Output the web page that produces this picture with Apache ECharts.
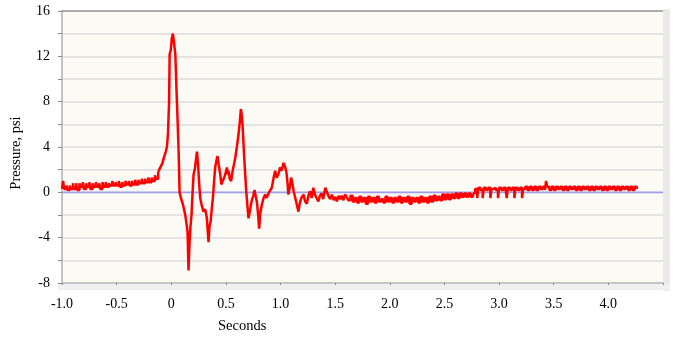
<!DOCTYPE html>
<html><head><meta charset="utf-8">
<script src="https://cdn.jsdelivr.net/npm/echarts@6/dist/echarts.min.js"></script>
<style>html,body{margin:0;padding:0;background:#fff}#c{width:673px;height:339px}</style>
</head><body><div id="c"></div>
<script>
// Pressure trace (seconds, psi)
const preShot = [
[-1.00,0.3],[-0.99,1.0],[-0.98,0.3],[-0.96,0.6],[-0.95,0.2],[-0.93,0.6],[-0.92,0.3],[-0.90,0.8],[-0.89,0.3],[-0.87,0.8],
[-0.86,0.2],[-0.84,0.8],[-0.83,0.5],[-0.81,0.9],[-0.80,0.3],[-0.78,0.8],[-0.77,0.5],[-0.75,0.9],[-0.74,0.3],[-0.72,0.8],
[-0.71,0.5],[-0.69,0.9],[-0.68,0.5],[-0.66,0.8],[-0.65,0.3],[-0.63,0.9],[-0.62,0.5],[-0.60,0.9],[-0.59,0.5],[-0.57,0.8],
[-0.56,0.6],[-0.54,1.0],[-0.53,0.6],[-0.51,0.9],[-0.50,0.6],[-0.48,1.0],[-0.47,0.5],[-0.45,0.9],[-0.44,0.6],[-0.42,1.0],
[-0.41,0.7],[-0.39,1.0],[-0.38,0.6],[-0.36,1.0],[-0.35,0.7],[-0.33,1.1],[-0.32,0.7],[-0.30,1.1],[-0.29,0.8],[-0.27,1.2],
[-0.26,0.8],[-0.24,1.2],[-0.23,0.9],[-0.21,1.3],[-0.20,0.9],[-0.18,1.3],[-0.17,1.0],[-0.15,1.5],[-0.14,1.2],[-0.12,1.8]
];
const blast = [
[-0.12,1.8],[-0.10,2.2],[-0.08,2.6],[-0.07,3.0],[-0.05,3.6],[-0.04,4.0],[-0.03,5.2],[-0.02,8.0],[-0.015,12.2],[-0.005,12.5],
[0.005,13.6],[0.015,14.0],[0.025,13.2],[0.037,12.2],[0.048,9.0],[0.058,6.3],[0.068,3.4],[0.076,0.0],[0.088,-0.5],[0.098,-0.8],
[0.11,-1.2],[0.128,-2.0],[0.14,-2.8],[0.149,-3.5],[0.158,-6.9],[0.166,-4.8],[0.174,-3.2],[0.185,-2.0],[0.195,0.0],[0.204,1.6],
[0.215,2.0],[0.225,2.8],[0.235,3.6],[0.245,2.5],[0.255,0.8],[0.265,-0.5],[0.28,-1.2],[0.295,-1.7],[0.31,-1.5],[0.325,-2.2],
[0.341,-4.4],[0.35,-3.0],[0.36,-2.6],[0.37,-1.5],[0.381,-0.5],[0.392,1.0],[0.402,2.2],[0.413,2.8],[0.423,3.2],[0.435,2.4],
[0.448,1.6],[0.458,0.7],[0.47,0.8],[0.484,1.3],[0.495,1.6],[0.509,2.2],[0.518,1.6],[0.524,1.9],[0.535,1.2],[0.548,1.0],
[0.56,1.8],[0.572,2.4],[0.585,3.0],[0.60,4.0],[0.615,5.1],[0.627,6.2],[0.637,7.35],[0.645,6.8],[0.652,6.0],[0.66,4.5],
[0.668,3.0],[0.677,1.5],[0.686,0.1],[0.697,-1.2],[0.707,-2.3],[0.72,-1.6],[0.735,-0.8],[0.75,-0.3],[0.762,0.2],[0.772,-0.3],
[0.783,-0.8],[0.795,-2.0],[0.804,-3.2],[0.815,-1.8],[0.829,-1.1],[0.845,-0.5],[0.859,-0.2],[0.872,-0.5],[0.885,-0.2],[0.90,0.1],
[0.92,0.4],[0.935,1.2],[0.95,1.9],[0.965,1.3],[0.98,1.6],[0.996,2.2],[1.01,1.9],[1.027,2.6],[1.04,2.3],[1.055,1.7],
[1.064,0.8],[1.072,-0.2],[1.085,0.5],[1.097,1.3],[1.11,0.7],[1.12,0.1],[1.135,-0.5],[1.149,-1.1],[1.164,-1.7],[1.175,-1.0],
[1.19,-0.5],[1.21,-0.2],[1.225,-0.8],[1.24,-1.0],[1.255,-0.3],[1.27,0.1],[1.285,-0.5],[1.30,0.4],[1.315,-0.2],[1.33,-0.5],
[1.346,-0.8],[1.36,-0.3],[1.375,-0.1],[1.39,-0.6],[1.41,0.4],[1.425,0.0],[1.44,-0.35],[1.455,-0.6],[1.47,-0.2],[1.485,-0.7],
[1.50,-0.4],[1.515,-0.8],[1.53,-0.3],[1.545,-0.6],[1.56,-0.3],[1.575,-0.7],[1.59,-0.2],[1.606,-0.4]
];
const tailLow = [
[1.606,-0.4],[1.62,-0.7],[1.64,-0.3],[1.66,-0.8],[1.68,-0.5],[1.70,-0.9],[1.72,-0.4],[1.74,-0.8],[1.76,-0.5],[1.78,-1.0],[1.80,-0.4],
[1.82,-0.8],[1.84,-0.5],[1.86,-0.9],[1.88,-0.4],[1.90,-0.8],[1.92,-0.6],[1.94,-0.9],[1.96,-0.4],[1.98,-0.8],[2.00,-0.5],
[2.02,-0.9],[2.04,-0.5],[2.06,-0.8],[2.08,-0.4],[2.10,-0.9],[2.12,-0.5],[2.14,-0.8],[2.16,-0.4],[2.18,-1.0],[2.20,-0.5],
[2.22,-0.8],[2.24,-0.5],[2.26,-0.9],[2.28,-0.4],[2.30,-0.8],[2.32,-0.5],[2.34,-0.9],[2.36,-0.4],[2.38,-0.8],[2.40,-0.3],
[2.42,-0.7],[2.44,-0.4],[2.46,-0.7],[2.48,-0.2],[2.50,-0.6],[2.52,-0.2],[2.54,-0.6],[2.56,-0.2],[2.58,-0.5],[2.60,-0.1],
[2.62,-0.5],[2.64,-0.1],[2.66,-0.4],[2.68,-0.1],[2.70,-0.4],[2.72,-0.1],[2.74,-0.4],[2.76,-0.1]
];
const tailHigh = [
[2.76,-0.1],[2.78,0.3],[2.80,-0.5],[2.81,0.4],[2.83,0.2],[2.85,-0.5],[2.86,0.4],[2.88,0.2],[2.90,0.4],[2.92,-0.5],[2.93,0.3],
[2.95,0.4],[2.97,0.2],[2.99,-0.5],[3.00,0.4],[3.02,0.2],[3.04,0.4],[3.06,0.2],[3.07,-0.5],[3.08,0.4],[3.10,0.2],
[3.12,0.4],[3.14,-0.5],[3.15,0.4],[3.17,0.2],[3.19,0.4],[3.21,-0.5],[3.22,0.3],
[3.24,0.5],[3.26,0.2],[3.28,0.5],[3.30,0.2],[3.32,0.5],[3.34,0.2],[3.36,0.5],[3.38,0.3],[3.40,0.5],[3.42,0.2],
[3.43,1.0],[3.44,0.5],[3.46,0.2],[3.48,0.5],[3.50,0.2],[3.52,0.5],[3.54,0.3],[3.56,0.5],[3.58,0.2],[3.60,0.5],
[3.62,0.2],[3.64,0.5],[3.66,0.3],[3.68,0.5],[3.70,0.2],[3.72,0.5],[3.74,0.2],[3.76,0.5],[3.78,0.3],[3.80,0.5],
[3.82,0.2],[3.84,0.5],[3.86,0.2],[3.88,0.5],[3.90,0.3],[3.92,0.5],[3.94,0.2],[3.96,0.5],[3.98,0.2],[4.00,0.5],
[4.02,0.3],[4.04,0.5],[4.06,0.2],[4.08,0.5],[4.10,0.2],[4.12,0.5],[4.14,0.3],[4.16,0.5],[4.18,0.2],[4.20,0.5],
[4.22,0.2],[4.24,0.5],[4.26,0.3]
];
const zeroLine = [[-1.0,0],[4.5,0]];
const xTickLabels = ['-1.0','-0.5','0','0.5','1.0','1.5','2.0','2.5','3.0','3.5','4.0'];
const yTickLabels = ['-8','-4','0','4','8','12','16'];

const serif = '"Liberation Serif","DejaVu Serif",serif';
const red = '#ff0000';

function traceSeries(data, step, width){
  return {type:'line', data:data, step:step, showSymbol:false, sampling:null,
          lineStyle:{color:red, width:width}, itemStyle:{color:red}, z:3, silent:true};
}

const chart = echarts.init(document.getElementById('c'), null, {renderer:'canvas'});
chart.setOption({
  animation:false,
  backgroundColor:'#ffffff',
  grid:{left:62, right:10, top:11, bottom:56, show:true, backgroundColor:'#fbfaf4', borderWidth:0},
  xAxis:{
    type:'value', min:-1.0, max:4.5, interval:0.5,
    axisLine:{show:true, onZero:false, lineStyle:{color:'#c4c4c4', width:2}},
    axisTick:{show:true, length:2, lineStyle:{color:'#888'}},
    splitLine:{show:false},
    axisLabel:{margin:14, fontFamily:serif, fontSize:14, color:'#000',
      formatter:function(v){ const s = Math.abs(v) < 1e-9 ? '0' : v.toFixed(1); return xTickLabels.indexOf(s) >= 0 ? s : ''; }}
  },
  yAxis:{
    type:'value', min:-8, max:16, interval:2,
    axisLine:{show:true, onZero:false, lineStyle:{color:'#c4c4c4', width:2}},
    axisTick:{show:true, length:4, lineStyle:{color:'#888'}},
    splitLine:{show:true, lineStyle:{color:'#e3e3e3', width:2}},
    axisLabel:{margin:12, fontFamily:serif, fontSize:14, color:'#000',
      formatter:function(v){ const s = String(Math.round(v)); return yTickLabels.indexOf(s) >= 0 ? s : ''; }}
  },
  graphic:[
    {type:'rect', shape:{x:663, y:9, width:7, height:282}, style:{fill:'#e9e9e9'}, z:-1},
    {type:'rect', shape:{x:58, y:284, width:612, height:6}, style:{fill:'#f0f0f0'}, z:-1},
    {type:'line', shape:{x1:62, y1:11, x2:663, y2:11}, style:{stroke:'#9a9a9a', lineWidth:1.5}, z:10},
    {type:'text', x:16, y:153, rotation:Math.PI/2,
      style:{text:'Pressure, psi', font:'14.5px '+serif, fill:'#000', align:'center', verticalAlign:'middle'}},
    {type:'text', left:218, top:319, style:{text:'Seconds', font:'14.5px '+serif, fill:'#000'}}
  ],
  series:[
    {type:'line', data:zeroLine, showSymbol:false, lineStyle:{color:'#9c9cf0', width:1.5}, z:2, silent:true},
    traceSeries(preShot, 'end', 2.5),
    traceSeries(blast, false, 2.5),
    traceSeries(tailLow, 'end', 2.5),
    traceSeries(tailHigh, 'end', 2.5)
  ]
});
</script></body></html>
